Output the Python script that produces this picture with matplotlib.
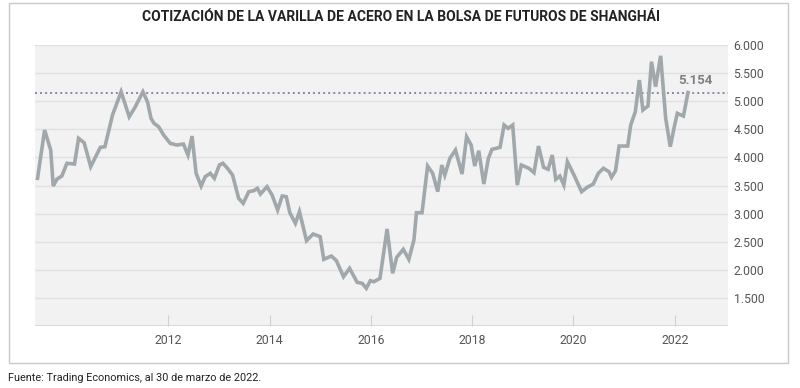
import matplotlib
matplotlib.use("Agg")
import matplotlib.pyplot as plt
from matplotlib.patches import Rectangle
from matplotlib.ticker import FuncFormatter, FixedLocator

title = "COTIZACIÓN DE LA VARILLA DE ACERO EN LA BOLSA DE FUTUROS DE SHANGHÁI"
source = "Fuente: Trading Economics, al 30 de marzo de 2022."

dates = [2009.42, 2009.56, 2009.68, 2009.73, 2009.80, 2009.90, 2010.00, 2010.15, 2010.23, 2010.34,
         2010.47, 2010.66, 2010.75, 2010.90, 2011.07, 2011.23, 2011.35, 2011.50, 2011.59, 2011.66,
         2011.72, 2011.81, 2011.91, 2012.04, 2012.17, 2012.30, 2012.39, 2012.47, 2012.55, 2012.65,
         2012.73, 2012.83, 2012.91, 2013.01, 2013.08, 2013.17, 2013.27, 2013.39, 2013.48, 2013.59,
         2013.69, 2013.76, 2013.82, 2013.95, 2014.05, 2014.16, 2014.25, 2014.33, 2014.40, 2014.51,
         2014.59, 2014.73, 2014.86, 2015.00, 2015.07, 2015.22, 2015.32, 2015.46, 2015.58, 2015.73,
         2015.83, 2015.91, 2015.99, 2016.06, 2016.18, 2016.32, 2016.43, 2016.51, 2016.64, 2016.75,
         2016.85, 2016.90, 2017.01, 2017.12, 2017.22, 2017.32, 2017.40, 2017.46, 2017.56, 2017.67,
         2017.80, 2017.89, 2017.98, 2018.05, 2018.13, 2018.23, 2018.32, 2018.39, 2018.55, 2018.63,
         2018.71, 2018.80, 2018.89, 2018.97, 2019.12, 2019.22, 2019.31, 2019.41, 2019.50, 2019.58,
         2019.65, 2019.73, 2019.81, 2019.88, 2020.01, 2020.16, 2020.27, 2020.39, 2020.49, 2020.59,
         2020.70, 2020.75, 2020.83, 2020.90, 2021.07, 2021.13, 2021.22, 2021.30, 2021.37, 2021.47,
         2021.54, 2021.62, 2021.72, 2021.82, 2021.91, 2021.99, 2022.05, 2022.17, 2022.26]
prices = [3628, 4487, 4131, 3490, 3610, 3669, 3895, 3882, 4339, 4261,
          3835, 4179, 4190, 4754, 5168, 4723, 4901, 5168, 4990, 4695,
          4606, 4546, 4398, 4250, 4220, 4238, 4042, 4380, 3717, 3490,
          3657, 3717, 3628, 3864, 3895, 3806, 3686, 3272, 3183, 3390,
          3408, 3450, 3348, 3479, 3330, 3064, 3313, 3301, 3016, 2827,
          3034, 2518, 2637, 2589, 2186, 2245, 2162, 1877, 2026, 1777,
          1759, 1671, 1806, 1788, 1848, 2726, 1937, 2222, 2364, 2186,
          2530, 3016, 3016, 3846, 3717, 3390, 3864, 3686, 3983, 4131,
          3704, 4368, 4220, 3846, 4119, 3526, 3983, 4143, 4179, 4576,
          4517, 4576, 3508, 3864, 3806, 3729, 4202, 3823, 3788, 4042,
          3610, 3669, 3508, 3923, 3686, 3390, 3468, 3526, 3717, 3806,
          3746, 3646, 3763, 4202, 4202, 4576, 4812, 5376, 4843, 4914,
          5703, 5257, 5807, 4695, 4190, 4546, 4784, 4736, 5154]
last_value = 5154
year_ticks = [2012, 2014, 2016, 2018, 2020, 2022]
y_ticks = [1500, 2000, 2500, 3000, 3500, 4000, 4500, 5000, 5500, 6000]

fig = plt.figure(figsize=(8, 3.88), dpi=100)
fig.patch.set_facecolor("white")

# outer frame
fig.patches.append(Rectangle((9/800, 1 - 363/388), (788 - 9)/800, (363 - 3)/388,
                             transform=fig.transFigure, fill=False,
                             edgecolor="#c9c9c9", linewidth=1.0))

ax = fig.add_axes([35/800, 1 - 326/388, (728 - 35)/800, (326 - 45)/388])
ax.set_facecolor("#f2f2f2")
ax.set_xlim(2009.37, 2023.05)
ax.set_ylim(1000, 6000)

for v in y_ticks:
    ax.axhline(v, color="#e0e0e0", linewidth=1.0, zorder=1)
ax.axhline(1000, color="#d5d5d5", linewidth=1.2, zorder=1)

ax.plot(dates, prices, color="#a1a8ac", linewidth=2.6, solid_joinstyle="miter", zorder=3)
ax.axhline(last_value, color="#8d86a3", linewidth=1.4, linestyle=(0, (1, 1.6)), zorder=2)
ax.annotate(f"{last_value:,}".replace(",", "."), xy=(dates[-1], last_value),
            xytext=(-7, 4), textcoords="offset points", ha="left", va="bottom",
            fontsize=9.5, fontweight="bold", color="#7c8186", family="Roboto")

for s in ax.spines.values():
    s.set_visible(False)

ax.yaxis.tick_right()
ax.yaxis.set_major_locator(FixedLocator(y_ticks))
ax.yaxis.set_major_formatter(FuncFormatter(lambda v, p: f"{v:,.0f}".replace(",", ".")))
ax.tick_params(axis="y", length=0, pad=4, labelsize=8.8, labelcolor="#555555")
ax.xaxis.set_major_locator(FixedLocator(year_ticks))
ax.tick_params(axis="x", direction="in", length=8, width=0.8, color="#d0d0d0",
               pad=6, labelsize=8.8, labelcolor="#555555")
for lab in ax.get_xticklabels() + ax.get_yticklabels():
    lab.set_family("Roboto")

fig.text(401/800, 1 - 17/388, title, ha="center", va="center", fontsize=10,
         fontweight="bold", color="#222222", family=["Liberation Sans Narrow", "Roboto"])
fig.text(8/800, 1 - 378/388, source, ha="left", va="center", fontsize=7.8,
         color="#222222", family=["Liberation Sans Narrow", "Roboto"])

fig.savefig("out.png", dpi=100, facecolor="white")
